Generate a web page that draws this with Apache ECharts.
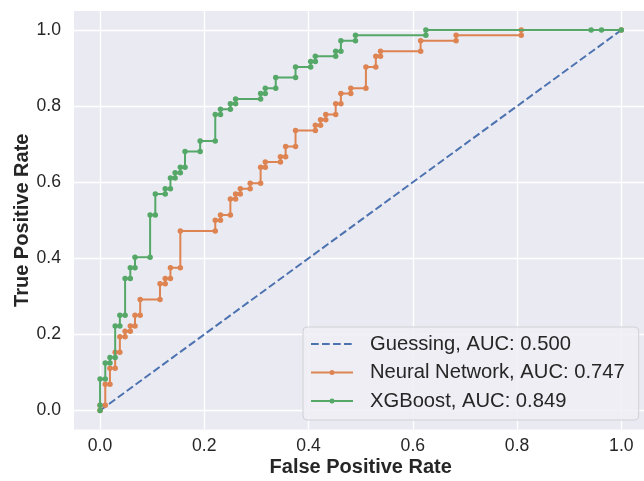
<!DOCTYPE html>
<html>
<head>
<meta charset="utf-8">
<script src="https://cdn.jsdelivr.net/npm/echarts@6/dist/echarts.min.js"></script>
<style>
html,body{margin:0;padding:0;background:#fff;}
#chart{width:644px;height:481px;}
</style>
</head>
<body>
<div id="chart"></div>
<script>
// Tick values
const tickValues = [0, 0.2, 0.4, 0.6, 0.8, 1.0];

// Guessing (diagonal)
const guessFpr = [0, 1];
const guessTpr = [0, 1];

// Neural Network ROC
const nnFpr = [0,0,0.010,0.010,0.019,0.019,0.029,0.029,0.038,0.038,0.048,0.048,0.058,0.058,0.067,0.067,0.077,0.077,0.115,0.115,0.125,0.125,0.135,0.135,0.154,0.154,0.221,0.221,0.231,0.231,0.250,0.250,0.260,0.260,0.269,0.269,0.288,0.288,0.308,0.308,0.317,0.317,0.346,0.346,0.356,0.356,0.375,0.375,0.413,0.413,0.423,0.423,0.433,0.433,0.452,0.452,0.462,0.462,0.481,0.481,0.510,0.510,0.529,0.529,0.538,0.538,0.615,0.615,0.683,0.683,0.808,0.808,1.000];
const nnTpr = [0,0.014,0.014,0.069,0.069,0.111,0.111,0.153,0.153,0.194,0.194,0.208,0.208,0.222,0.222,0.250,0.250,0.292,0.292,0.333,0.333,0.347,0.347,0.375,0.375,0.472,0.472,0.500,0.500,0.514,0.514,0.556,0.556,0.569,0.569,0.583,0.583,0.597,0.597,0.639,0.639,0.653,0.653,0.667,0.667,0.694,0.694,0.736,0.736,0.750,0.750,0.764,0.764,0.778,0.778,0.806,0.806,0.833,0.833,0.847,0.847,0.903,0.903,0.931,0.931,0.944,0.944,0.972,0.972,0.986,0.986,1.000,1.000];

// XGBoost ROC
const xgbFpr = [0,0,0,0.010,0.010,0.019,0.019,0.029,0.029,0.038,0.038,0.048,0.048,0.058,0.058,0.067,0.067,0.096,0.096,0.106,0.106,0.125,0.125,0.135,0.135,0.144,0.144,0.154,0.154,0.163,0.163,0.192,0.192,0.221,0.221,0.231,0.231,0.250,0.250,0.260,0.260,0.308,0.308,0.317,0.317,0.337,0.337,0.375,0.375,0.404,0.404,0.413,0.413,0.452,0.452,0.462,0.462,0.490,0.490,0.625,0.625,0.942,0.962,1.000];
const xgbTpr = [0,0.014,0.083,0.083,0.125,0.125,0.139,0.139,0.222,0.222,0.250,0.250,0.347,0.347,0.375,0.375,0.403,0.403,0.514,0.514,0.569,0.569,0.583,0.583,0.611,0.611,0.625,0.625,0.639,0.639,0.681,0.681,0.708,0.708,0.778,0.778,0.792,0.792,0.806,0.806,0.819,0.819,0.833,0.833,0.847,0.847,0.875,0.875,0.903,0.903,0.917,0.917,0.931,0.931,0.944,0.944,0.972,0.972,0.986,0.986,1.000,1.000,1.000,1.000];

const seriesNames = ['Guessing, AUC: 0.500', 'Neural Network, AUC: 0.747', 'XGBoost, AUC: 0.849'];
const colors = ['#4C72B0', '#DD8452', '#55A868'];

function zip(xs, ys) { return xs.map((x, i) => [x, ys[i]]); }

// legend icons (42 x 8 box; corner anchors keep the box size)
const ANCH = 'M0,0 L0,0 M42,8 L42,8 ';
const dashIcon = 'path://' + ANCH +
  'M0,3 L7.7,3 L7.7,5 L0,5 Z M11,3 L18.7,3 L18.7,5 L11,5 Z M22,3 L29.7,3 L29.7,5 L22,5 Z M33,3 L40.7,3 L40.7,5 L33,5 Z';
const dotLineIcon = 'path://' + ANCH +
  'M0,3 L18.6,3 L18.6,5 L0,5 Z M23.4,3 L42,3 L42,5 L23.4,5 Z ' +
  'M18.5,4 A2.5,2.5 0 1,1 23.5,4 A2.5,2.5 0 1,1 18.5,4 Z';

const FONT = '"Liberation Sans", Arial, sans-serif';
const chart = echarts.init(document.getElementById('chart'), null, {renderer: 'canvas'});

function axisCommon(name, isX) {
  return {
    type: 'value',
    min: -0.05,
    max: 1.05,
    name: name,
    nameLocation: 'middle',
    nameGap: isX ? 28 : 42,
    nameMoveOverlap: false,
    nameTextStyle: {fontFamily: FONT, fontSize: 20, fontWeight: 'bold', color: '#262626'},
    axisLine: {show: false},
    axisTick: {show: false, customValues: tickValues},
    axisLabel: {
      customValues: tickValues,
      formatter: v => v.toFixed(1),
      fontFamily: FONT, fontSize: 17.6, color: '#262626',
      margin: isX ? 8 : 13
    },
    splitLine: {show: true, lineStyle: {color: '#ffffff', width: 1.3}}
  };
}

chart.setOption({
  animation: false,
  backgroundColor: '#ffffff',
  color: colors,
  grid: {
    left: 74, top: 11, right: -3.4, bottom: 51.5,
    outerBoundsMode: 'none', containLabel: false,
    show: true, backgroundColor: '#EAEAF2', borderWidth: 0
  },
  xAxis: axisCommon('False Positive Rate', true),
  yAxis: axisCommon('True Positive Rate', false),
  legend: {
    orient: 'vertical',
    left: 303, top: 327,
    padding: [7, 14, 9, 8],
    itemWidth: 42, itemHeight: 8, itemGap: 8.5,
    backgroundColor: 'rgba(238,238,245,0.85)',
    borderColor: '#d0d0d6', borderWidth: 1, borderRadius: 4,
    itemStyle: {borderWidth: 0},
    textStyle: {fontFamily: FONT, fontSize: 20.2, color: '#262626', padding: [0, 0, 0, 12], lineHeight: 20},
    data: [
      {name: seriesNames[0], icon: dashIcon},
      {name: seriesNames[1], icon: dotLineIcon},
      {name: seriesNames[2], icon: dotLineIcon}
    ]
  },
  series: [
    {
      name: seriesNames[0], type: 'line', data: zip(guessFpr, guessTpr),
      showSymbol: false, symbol: 'none',
      lineStyle: {color: colors[0], width: 2, type: [7.7, 3.3]},
      itemStyle: {color: colors[0]}, z: 2
    },
    {
      name: seriesNames[1], type: 'line', data: zip(nnFpr, nnTpr),
      symbol: 'circle', symbolSize: 5.5, showAllSymbol: true,
      lineStyle: {color: colors[1], width: 2},
      itemStyle: {color: colors[1]}, z: 3
    },
    {
      name: seriesNames[2], type: 'line', data: zip(xgbFpr, xgbTpr),
      symbol: 'circle', symbolSize: 5.5, showAllSymbol: true,
      lineStyle: {color: colors[2], width: 2},
      itemStyle: {color: colors[2]}, z: 4
    }
  ]
});
</script>
</body>
</html>
